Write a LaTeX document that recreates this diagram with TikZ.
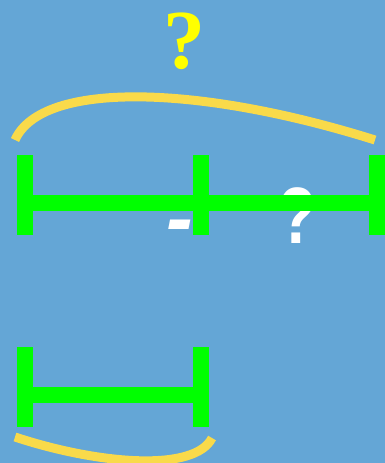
\documentclass[tikz,border=0pt]{standalone}
\usepackage{fontspec}
\setmainfont{Liberation Serif}
\setsansfont{Liberation Sans}

\begin{document}
\begin{tikzpicture}[x=1pt,y=-1pt]
\definecolor{bgblue}{RGB}{100,166,214}
\definecolor{arcyellow}{RGB}{249,218,74}
\definecolor{qyellow}{RGB}{255,255,0}
\tikzset{tick/.style = {draw=green, line width=16pt}}
\tikzset{arc/.style = {draw=arcyellow, line width=9pt}}
\tikzset{mark text/.style = {inner sep=0pt, font=\fontsize{84}{84}\selectfont\bfseries}}

\fill[bgblue] (0,0) rectangle (385,463);
\useasboundingbox (0,0) rectangle (385,463);

% labels
    \node[mark text, text=qyellow] (qtop) at (184,41) {?};
    \node[mark text, text=white, anchor=base, font=\fontsize{80}{80}\selectfont\sffamily\bfseries\itshape] (minus) at (180,245) {-};
    \node[mark text, text=white, font=\fontsize{80}{80}\selectfont\sffamily\bfseries] (qmid) at (298,216) {\scalebox{0.78}[1]{?}};

% upper strip
    \coordinate (a1) at (25,155);
    \coordinate (a2) at (25,235);
    \coordinate (b1) at (201,155);
    \coordinate (b2) at (201,235);
    \coordinate (c1) at (377,155);
    \coordinate (c2) at (377,235);
    \coordinate (al) at (25,203);
    \coordinate (cl) at (377,203);
\draw[tick] (a1)--(a2);
\draw[tick] (b1)--(b2);
\draw[tick] (c1)--(c2);
\draw[tick] (al)--(cl);

% lower strip
    \coordinate (d1) at (25,347);
    \coordinate (d2) at (25,427);
    \coordinate (e1) at (201,347);
    \coordinate (e2) at (201,427);
    \coordinate (dl) at (25,395);
    \coordinate (el) at (201,395);
\draw[tick] (d1)--(d2);
\draw[tick] (e1)--(e2);
\draw[tick] (dl)--(el);

% arcs
    \coordinate (t1) at (15,140);
    \coordinate (t2) at (375,140);
    \coordinate (u1) at (15,437);
    \coordinate (u2) at (212,438);
\draw[arc] (t1) .. controls (42,80) and (200,85) .. (t2);
\draw[arc] (u1) .. controls (100,465) and (195,472) .. (u2);
\end{tikzpicture}
\end{document}
